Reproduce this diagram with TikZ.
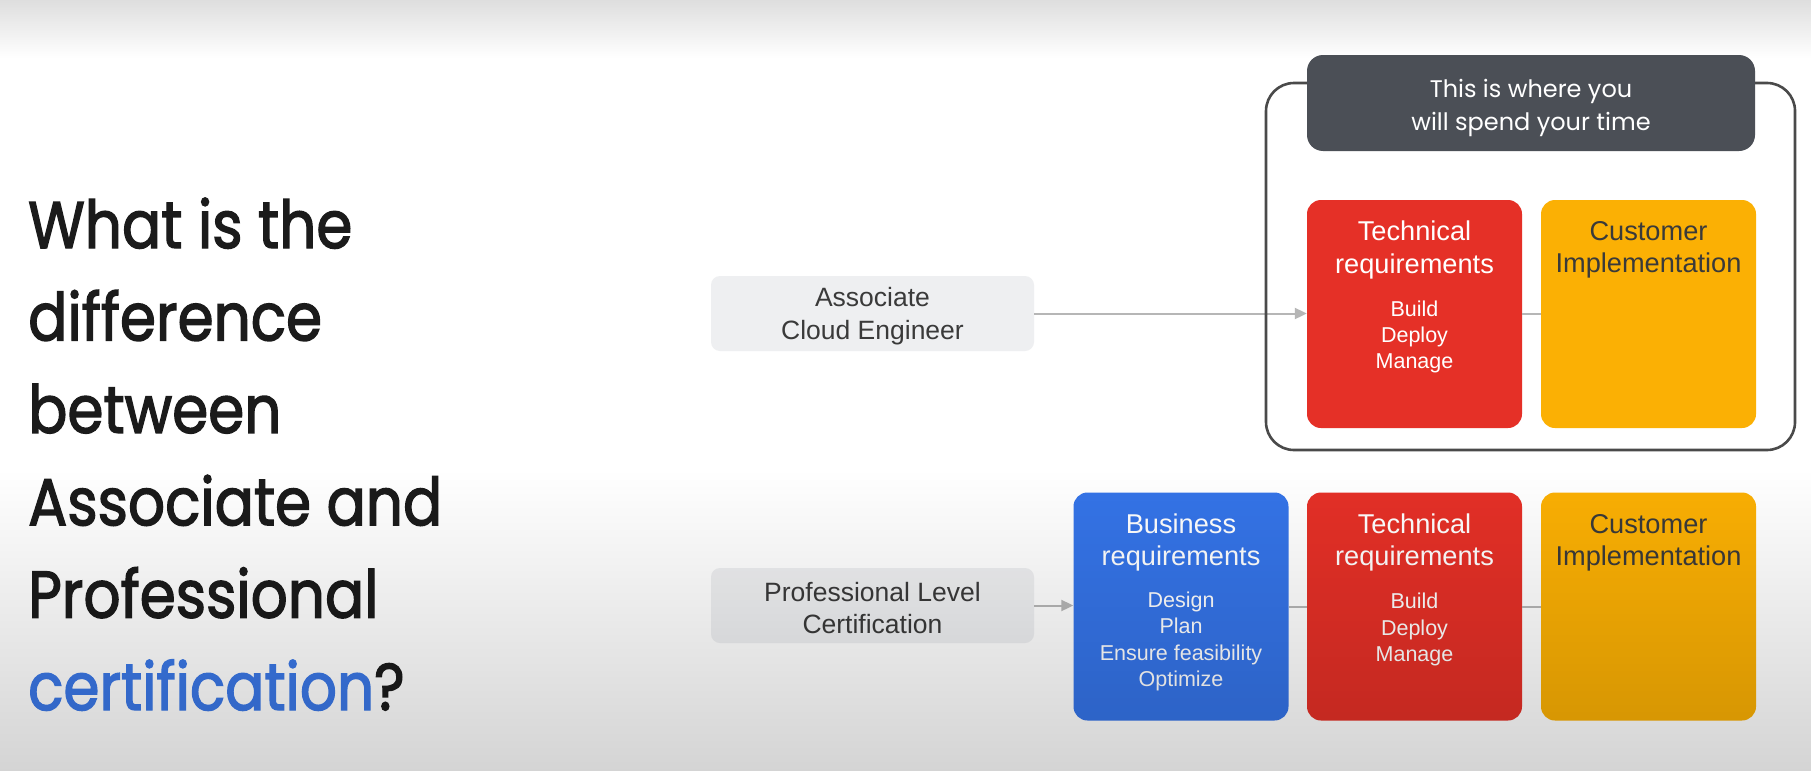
\documentclass[tikz,border=0pt]{standalone}
\usepackage{fontspec}
\setmainfont{Liberation Sans}
\newfontfamily\gsans{Poppins}
\newfontfamily\gsansbold{Poppins}[FakeBold=2.2]
\usetikzlibrary{arrows.meta,fadings}
\definecolor{titleblack}{HTML}{1B1B1B}
\definecolor{certblue}{HTML}{3B78E7}
\definecolor{hdrgray}{HTML}{4B4F56}
\definecolor{boxgray}{HTML}{EEEFF1}
\definecolor{gred}{HTML}{E53027}
\definecolor{gblue}{HTML}{3574E8}
\definecolor{gyellow}{HTML}{FBB004}
\definecolor{darktext}{HTML}{3A3A3A}
\definecolor{linegray}{HTML}{B6B6B6}
\definecolor{framegray}{HTML}{4A4A4A}
\tikzfading[name=fadedown, top color=transparent!100, bottom color=transparent!0]
\tikzfading[name=fadeup, top color=transparent!0, bottom color=transparent!100]
\tikzset{
  colbox/.style={rectangle, rounded corners=14pt, minimum width=215pt, minimum height=228pt, inner sep=0pt},
  graybox/.style={rectangle, rounded corners=9pt, fill=boxgray, minimum width=323pt, minimum height=75pt, inner sep=0pt},
  graytext/.style={align=center, inner sep=0pt, text=darktext, font=\fontsize{26.5}{32.3}\selectfont},
  boxtitle/.style={align=center, inner sep=0pt, font=\fontsize{27.2}{32.3}\selectfont},
  boxsub/.style={align=center, inner sep=0pt, font=\fontsize{21.5}{26.4}\selectfont},
  conn/.style={draw=linegray, line width=2pt},
  arr/.style={conn, -{Triangle[length=12pt,width=11pt]}},
}
\begin{document}
\begin{tikzpicture}[x=1pt,y=-1pt]
\useasboundingbox (0,0) rectangle (1811,771);
\fill[white] (0,0) rectangle (1811,771);

% title
\node[anchor=base west, align=left, inner sep=0pt, text=titleblack, xscale=0.88,
      font=\gsansbold\fontsize{66}{92.4}\selectfont] (title) at (28,710)
  {What is the\\difference\\between\\Associate and\\Professional\\\textcolor{certblue}{certification}?};

% gray source boxes
\node[graybox] (ace) at (872.5,313.5) {};
\node[graytext] (acet) at (872.5,316) {Associate\\Cloud Engineer};
\node[graybox] (prof) at (872.5,605.5) {};
\node[graytext] (proft) at (872.5,608) {Professional Level\\Certification};

% top row
\node[colbox, fill=gred] (tred) at (1414.5,314) {};
\node[colbox, fill=gyellow] (tyel) at (1648.5,314) {};
% bottom row
\node[colbox, fill=gblue] (bblue) at (1181,606.5) {};
\node[colbox, fill=gred] (bred) at (1414.5,606.5) {};
\node[colbox, fill=gyellow] (byel) at (1648.5,606.5) {};

% connectors
\draw[arr] (ace.east) -- (tred.west |- ace.east);
\draw[conn] (tred.east) -- (tyel.west);
\draw[arr] (prof.east) -- (bblue.west |- prof.east);
\draw[conn] (bblue.east) -- (bred.west);
\draw[conn] (bred.east) -- (byel.west);

% frame
\draw[framegray, line width=2.6pt, rounded corners=28pt] (1266,83) rectangle (1795,450);
\node[rectangle, rounded corners=16pt, fill=hdrgray, minimum width=448pt, minimum height=96pt, inner sep=0pt] (hdr) at (1531,103) {};
\node[align=center, inner sep=0pt, text=white, font=\gsans\fontsize{24}{32.3}\selectfont] (hdrt) at (1531,108)
  {This is where you\\will spend your time};

% box texts
\node[boxtitle, text=white] (trt) at (1414.5,250) {Technical\\requirements};
\node[boxsub, text=white] (trs) at (1414.5,337) {Build\\Deploy\\Manage};
\node[boxtitle, text=darktext] (tyt) at (1648.5,250) {Customer\\Implementation};

\node[boxtitle, text=white] (bbt) at (1181,542.5) {Business\\requirements};
\node[boxsub, text=white] (bbs) at (1181,641.5) {Design\\Plan\\Ensure feasibility\\Optimize};
\node[boxtitle, text=white] (brt) at (1414.5,542.5) {Technical\\requirements};
\node[boxsub, text=white] (brs) at (1414.5,629.5) {Build\\Deploy\\Manage};
\node[boxtitle, text=darktext] (byt) at (1648.5,542.5) {Customer\\Implementation};

% video gradients
\fill[black, opacity=0.13, path fading=fadeup] (0,0) rectangle (1811,58);
\fill[black, opacity=0.17, path fading=fadedown] (0,470) rectangle (1811,771);
\end{tikzpicture}
\end{document}
